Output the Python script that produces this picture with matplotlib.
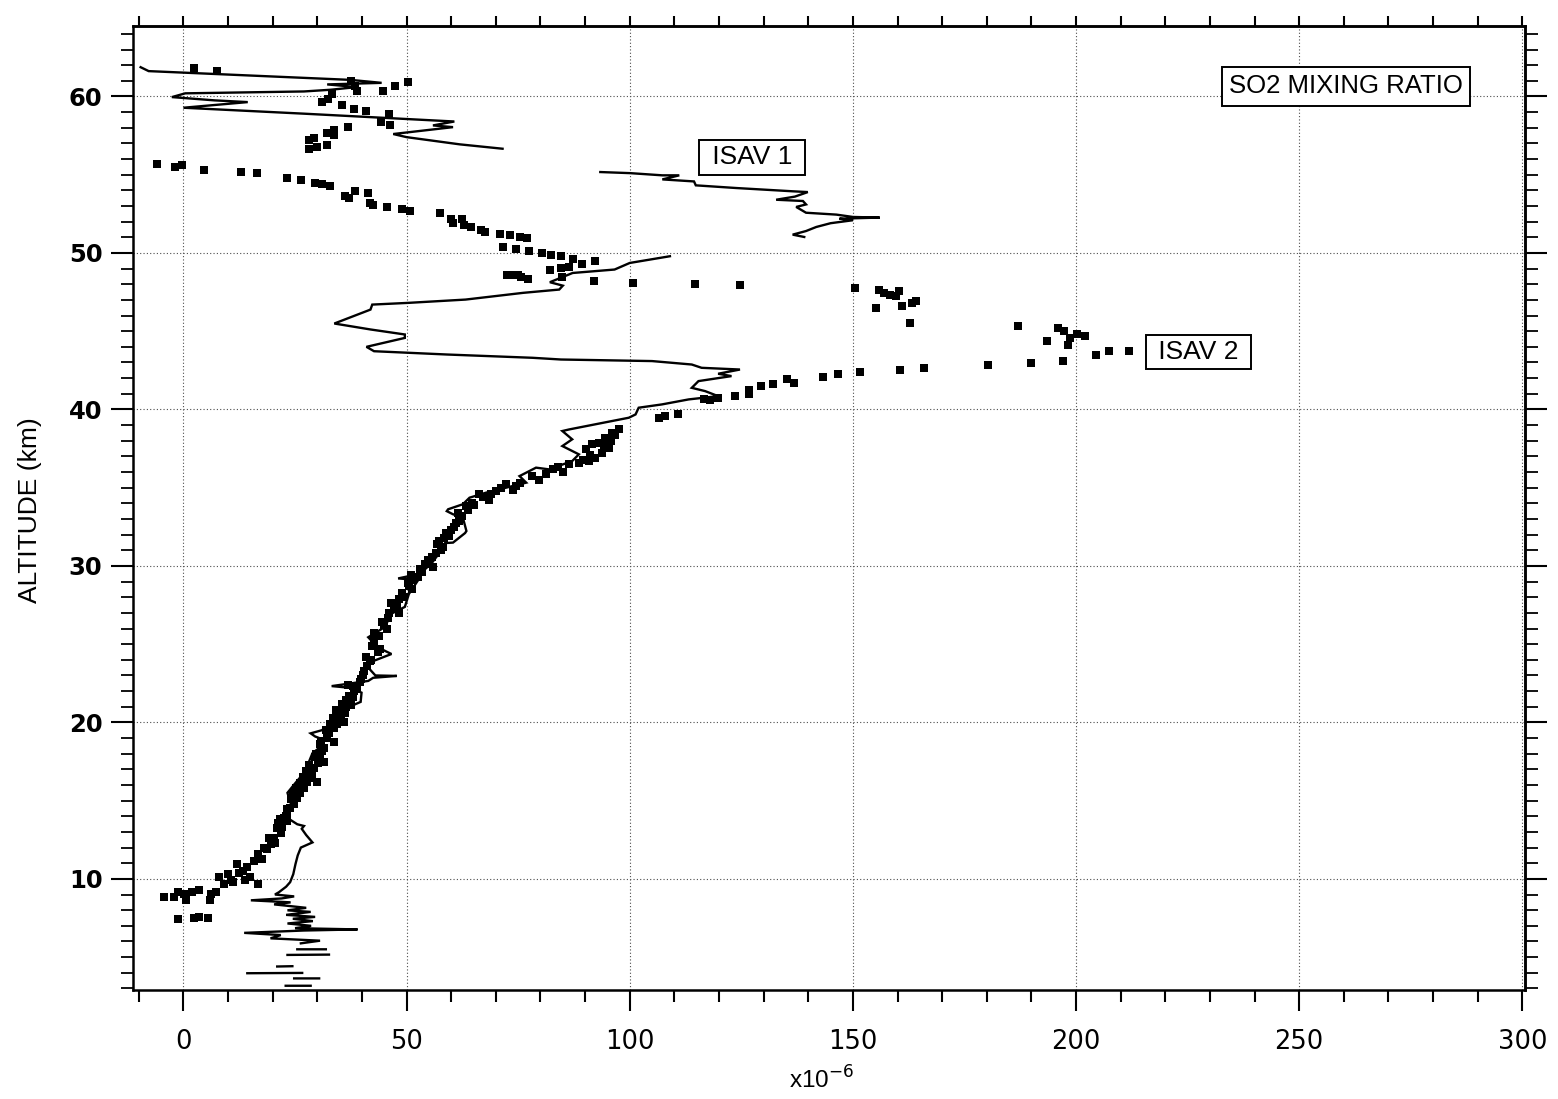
import numpy as np
import matplotlib
matplotlib.use("Agg")
import matplotlib.pyplot as plt
from matplotlib.ticker import MultipleLocator

# ---------------------------------------------------------------------------
# SO2 mixing ratio profiles (x1e-6) versus altitude (km)
# ---------------------------------------------------------------------------

# ISAV 1 profile, drawn as a line; broken into separate traces.
# Each trace: list of (altitude km, mixing ratio x1e-6)
isav1_bottom_fragments = [
    [(3.17, 22.9), (3.17, 28.5)],
    [(3.64, 24.8), (3.64, 30.4)],
    [(3.97, 14.3), (3.99, 26.6)],
    [(4.40, 21.0), (4.42, 24.4)],
    [(5.14, 23.3), (5.16, 32.6)],
    [(5.50, 25.5), (5.50, 31.9)],
]

isav1_lower = [
    (5.88, 26.3), (6.05, 30.6), (6.20, 19.5), (6.41, 21.8), (6.55, 13.6),
    (6.70, 27.0), (6.77, 39.0), (6.85, 25.0), (7.00, 28.6), (7.15, 23.3),
    (7.30, 29.0), (7.45, 24.5), (7.57, 29.5), (7.70, 23.0), (7.89, 28.5),
    (7.99, 23.3), (8.15, 27.5), (8.37, 20.3), (8.50, 24.0), (8.63, 15.1),
    (8.75, 22.0), (8.88, 24.8), (9.00, 20.5), (9.15, 21.4), (9.50, 23.0),
    (9.79, 23.9), (10.30, 24.6), (10.95, 25.1), (11.50, 25.6), (12.00, 26.3),
    (12.33, 28.9), (12.80, 27.5), (13.20, 26.5), (13.38, 27.0), (13.49, 25.5),
    (13.80, 23.8), (14.12, 22.5), (14.76, 24.1), (15.50, 23.3), (16.10, 25.0),
    (16.77, 27.0), (17.40, 28.0), (18.03, 28.9), (18.50, 31.0), (18.88, 31.5),
    (19.10, 29.5), (19.30, 28.5), (19.50, 31.0), (19.80, 32.5), (20.15, 34.5),
    (20.60, 36.5), (21.00, 37.2), (21.31, 39.7), (21.90, 39.9), (22.20, 37.7),
    (22.32, 33.2), (22.65, 41.4), (22.85, 42.5), (22.97, 47.8), (23.00, 43.0),
    (23.72, 40.7), (24.37, 46.6), (24.80, 43.5), (25.44, 41.4), (26.09, 45.1),
    (26.95, 46.6), (27.38, 49.6), (28.20, 50.5), (29.10, 52.6), (29.20, 48.1),
    (29.50, 53.0), (30.17, 55.6), (30.85, 57.4), (31.46, 58.6), (31.49, 60.4),
    (32.10, 63.1), (32.23, 63.4), (33.09, 62.6), (33.30, 60.4), (33.50, 59.0),
    (33.62, 59.3), (33.94, 62.6), (34.36, 64.1), (34.68, 67.8), (35.00, 72.3),
    (35.32, 76.8), (35.74, 75.3), (35.96, 76.8), (36.28, 79.0), (36.17, 81.9),
    (36.70, 87.1), (37.13, 88.6), (37.66, 84.9), (38.09, 87.1), (38.62, 84.9),
    (38.72, 86.4), (39.47, 99.8), (39.68, 101.3), (40.11, 102.0), (40.32, 107.2),
    (40.64, 113.2), (40.85, 119.8), (41.17, 116.9), (41.38, 113.9), (41.81, 115.4),
    (42.13, 122.8), (42.28, 119.8), (42.55, 124.7), (42.66, 116.1), (42.87, 113.9),
    (43.09, 105.0), (43.19, 84.6), (43.30, 78.2), (43.51, 59.0), (43.72, 42.7),
    (44.00, 41.0), (44.57, 49.6), (44.79, 49.6), (45.11, 41.9), (45.49, 33.8),
    (46.38, 41.9), (46.70, 42.3), (46.81, 50.4), (47.02, 63.2), (47.45, 76.1),
    (47.66, 84.2), (47.91, 85.0), (48.13, 82.1), (48.72, 87.2), (48.94, 96.6),
    (49.36, 100.0), (49.79, 109.0),
]

isav1_middle = [
    (51.02, 139.1), (51.17, 136.5), (51.40, 139.5), (51.66, 141.8), (51.90, 145.0),
    (52.09, 150.0), (52.19, 147.0), (52.26, 156.0), (52.30, 150.0), (52.45, 146.3),
    (52.57, 139.5), (52.94, 137.3), (53.10, 139.5), (53.32, 138.8), (53.40, 132.8),
    (53.60, 137.0), (53.89, 139.9), (53.94, 136.5), (54.15, 123.8), (54.32, 114.8),
    (54.57, 114.4), (54.70, 107.3), (54.96, 111.1), (54.96, 107.3), (55.10, 100.1),
    (55.17, 93.4),
]

isav1_upper = [
    (56.66, 71.5), (56.94, 61.9), (57.40, 50.0), (57.60, 47.0), (58.04, 60.4),
    (58.15, 55.9), (58.40, 60.7), (58.90, 27.0), (59.28, 0.0), (59.64, 14.4),
    (59.75, 7.0), (59.96, -2.6), (60.20, 0.4), (60.32, 27.0), (60.43, 33.0),
    (60.60, 38.9), (60.77, 32.2), (60.87, 44.4), (61.06, 37.4), (61.62, -7.8),
    (61.87, -9.6),
]

# ISAV 2 profile, drawn as square points: (altitude km, mixing ratio x1e-6)
isav2_low = [
    (7.46, -1.3), (7.53, 2.4), (7.57, 3.5), (7.53, 5.4),
    (8.84, -4.3), (8.84, -2.2), (9.15, -1.3), (9.05, 0.1), (8.63, 0.5),
    (9.15, 2.0), (9.30, 3.5), (8.63, 6.0), (9.05, 6.1), (9.15, 7.2),
    (10.10, 8.0), (10.30, 9.9), (9.90, 10.6), (9.68, 9.1), (10.95, 11.9),
    (10.53, 13.4), (9.90, 13.8), (10.10, 15.0), (9.68, 16.6), (10.74, 14.3),
    (11.16, 15.8), (10.40, 12.5), (9.80, 11.0), (11.58, 16.6), (11.30, 17.5),
    (12.00, 18.0), (11.90, 18.8), (12.22, 19.6), (12.30, 20.5), (12.64, 20.3),
    (12.60, 19.2), (13.28, 21.0), (12.96, 21.8), (13.30, 22.0), (13.60, 21.2),
    (13.83, 21.7), (13.91, 22.5), (13.70, 23.3), (14.00, 23.0), (14.20, 23.3),
    (14.47, 23.2), (14.55, 23.9), (14.80, 24.8), (15.10, 24.2), (15.18, 25.5),
    (15.50, 24.5), (15.50, 26.2), (15.81, 27.0), (15.80, 25.3), (16.10, 26.0),
    (16.17, 29.9), (16.20, 27.6), (16.45, 28.5), (16.50, 26.8), (16.70, 28.9),
    (16.90, 27.5), (17.08, 29.3), (17.30, 28.2), (17.40, 30.1), (17.45, 31.4),
    (17.72, 30.7), (17.80, 29.5), (18.00, 29.8), (18.20, 31.0), (18.35, 31.5),
    (18.60, 30.5), (18.72, 33.7), (18.80, 30.9), (18.99, 32.2), (19.30, 32.7),
    (19.50, 32.0), (19.62, 33.7), (19.90, 32.8), (19.90, 34.4), (20.00, 35.9),
    (20.30, 33.6), (20.47, 35.2), (20.70, 35.7), (20.80, 34.2), (21.00, 36.4),
    (21.10, 37.5), (21.28, 37.4), (21.40, 36.5), (21.60, 37.9), (22.00, 38.1),
    (22.13, 38.9), (22.40, 36.8), (22.60, 39.5), (23.00, 40.2), (23.62, 41.1),
    (24.00, 42.0), (24.50, 43.5), (24.68, 44.1), (25.20, 42.8), (25.96, 45.6),
    (26.40, 44.5), (26.98, 48.4), (27.23, 47.1), (27.60, 46.5), (28.00, 49.5),
    (28.50, 51.3), (28.90, 50.2), (29.30, 52.5), (29.60, 53.5), (29.96, 55.8),
    (30.40, 54.8), (30.80, 56.5), (31.24, 58.1), (31.60, 57.2), (31.90, 59.5),
    (32.30, 60.0), (32.73, 61.1), (33.20, 62.3), (33.80, 63.3), (33.90, 65.0),
    (34.20, 68.5), (34.57, 66.3), (34.79, 70.1), (34.86, 73.8), (35.21, 72.3),
    (35.30, 75.5), (35.50, 79.7), (35.74, 78.2), (35.85, 81.2), (36.00, 85.1),
    (36.17, 82.7), (36.49, 86.4), (36.60, 88.6), (36.70, 90.9), (36.91, 92.3),
    (37.23, 93.8), (37.45, 90.1), (37.55, 95.3), (37.77, 91.6), (37.87, 93.1),
    (38.19, 94.5), (38.51, 96.0), (38.72, 97.5), (39.47, 106.5), (39.57, 108.0),
    (39.68, 110.7), (40.64, 116.7), (40.60, 118.0), (40.74, 119.7), (40.85, 123.5),
    (41.00, 126.7), (41.21, 126.7), (41.49, 129.4), (41.60, 132.1), (41.96, 135.3),
    (41.70, 136.9), (42.09, 143.3), (42.28, 146.6), (42.38, 151.6), (42.51, 160.5),
    (42.66, 165.9), (42.87, 180.2), (42.96, 189.9), (43.09, 197.0), (43.47, 204.5),
    (43.72, 207.3), (43.72, 211.9),
]

# additional ISAV 2 samples along the dense 20-38 km stretch
isav2_dense = [
    (20.20, 34.8), (20.60, 36.2), (21.20, 35.5), (21.70, 37.0), (22.30, 38.0),
    (22.80, 39.8), (23.30, 40.5), (23.90, 41.8), (24.20, 40.9), (24.90, 42.3),
    (25.50, 43.8), (25.70, 42.6), (26.20, 45.0), (26.70, 45.8), (27.00, 46.0),
    (27.40, 47.8), (27.90, 48.3), (28.30, 49.0), (28.70, 50.5), (29.10, 51.5),
    (29.40, 50.9), (29.80, 53.0), (30.10, 54.2), (30.60, 55.6), (31.00, 57.6),
    (31.40, 56.8), (31.80, 58.4), (32.10, 58.9), (32.50, 60.6), (32.90, 61.8),
    (33.40, 61.5), (33.60, 63.8), (34.00, 64.6), (34.40, 67.2), (34.60, 68.9),
    (35.00, 71.2), (35.10, 74.5), (36.30, 84.0), (36.80, 89.5), (37.10, 91.0),
    (37.70, 94.2), (38.00, 95.8), (38.35, 96.8),
]

isav2_mid = [
    (45.32, 187.1), (44.40, 193.6), (45.21, 196.0), (45.04, 197.3), (44.57, 198.7),
    (44.11, 198.1), (44.85, 200.3), (44.68, 202.0),
    (45.53, 162.8), (46.45, 155.2), (46.60, 160.9), (46.81, 163.3), (46.96, 164.2),
    (47.66, 155.8), (47.45, 157.0), (47.30, 158.3), (47.23, 159.6), (47.55, 160.3),
    (47.77, 150.4), (47.98, 124.8), (48.02, 114.6), (48.09, 100.7), (48.19, 92.1),
    (48.57, 72.6), (48.62, 73.1), (48.57, 75.0), (48.47, 75.6), (48.36, 77.3),
    (48.90, 82.2), (49.04, 84.6), (49.10, 86.3), (48.47, 84.8),
    (50.38, 71.5), (50.28, 74.5), (50.10, 77.5), (50.00, 80.4), (49.90, 82.4),
    (49.80, 84.5), (49.64, 87.2), (49.32, 89.2), (49.49, 92.3),
    (51.23, 71.0), (51.13, 73.2), (51.02, 75.4), (50.96, 77.0),
]

isav2_high = [
    (52.55, 57.4), (52.17, 60.0), (51.91, 60.3), (52.17, 62.4), (51.81, 62.8),
    (51.64, 64.5), (51.45, 66.7), (51.34, 67.5),
    (52.83, 48.9), (52.66, 50.7), (52.94, 45.6), (53.09, 42.4), (53.19, 41.9),
    (53.83, 41.3), (53.96, 38.5), (53.51, 37.0), (53.64, 36.1), (54.28, 32.8),
    (54.43, 31.1), (54.49, 29.4), (54.68, 26.3), (54.79, 23.2), (55.11, 16.5),
    (55.17, 13.0), (55.32, 4.7), (55.60, -0.4), (55.49, -1.9), (55.70, -5.9),
    (56.66, 28.1), (56.77, 30.0), (56.91, 32.1), (57.19, 28.1), (57.36, 29.3),
    (57.66, 32.2), (57.51, 33.7), (57.83, 33.7), (58.04, 36.9), (58.36, 44.3),
    (58.19, 46.3), (58.89, 46.1), (59.10, 40.9), (59.21, 38.1), (59.43, 35.6),
    (59.64, 31.1), (59.85, 32.4), (60.13, 33.3), (60.34, 38.9), (60.38, 44.8),
    (60.68, 47.3), (60.90, 50.4), (60.70, 38.5), (61.00, 37.6), (61.60, 7.6),
    (61.81, 2.4),
]

x_ticks = [0, 50, 100, 150, 200, 250, 300]
y_ticks = [10, 20, 30, 40, 50, 60]

# ---------------------------------------------------------------------------
fig = plt.figure(figsize=(15.58, 10.99), dpi=100)
ax = fig.add_axes([0.0854, 0.0992, 0.8934, 0.8771])

# join ISAV 1 traces with gaps between them
line_alt, line_val = [], []
for trace in isav1_bottom_fragments + [isav1_lower, isav1_middle, isav1_upper]:
    a, v = zip(*trace)
    line_alt.extend(a + (np.nan,))
    line_val.extend(v + (np.nan,))
ax.plot(line_val, line_alt, color="black", lw=1.7, solid_joinstyle="miter")

pts_alt, pts_val = zip(*(isav2_low + isav2_dense + isav2_mid + isav2_high))
ax.plot(pts_val, pts_alt, ls="none", marker="s", ms=5.4, color="black",
        markeredgewidth=0)

ax.set_xlim(-11.3, 300.6)
ax.set_ylim(2.9, 64.5)

ax.set_xticks(x_ticks)
ax.set_yticks(y_ticks)
ax.xaxis.set_minor_locator(MultipleLocator(10))
ax.yaxis.set_minor_locator(MultipleLocator(1))

ax.grid(which="major", linestyle=(0, (1, 2)), color="0.3", linewidth=0.8)

for s in ax.spines.values():
    s.set_linewidth(1.8)

ax.tick_params(axis="x", which="major", direction="out", length=15, width=1.5,
               pad=13, labelsize=18.5)
ax.tick_params(axis="x", which="minor", direction="out", length=8.5, width=1.5)
ax.tick_params(axis="y", which="major", direction="out", length=16, width=1.5,
               pad=6, labelsize=17.5)
ax.tick_params(axis="y", which="minor", direction="out", length=9, width=1.3)
for lbl in ax.get_yticklabels():
    lbl.set_fontweight("bold")

top = ax.secondary_xaxis("top")
top.set_xticks(np.arange(-10, 301, 10))
top.tick_params(direction="out", length=7, width=1.5, labeltop=False)
top.spines["top"].set_linewidth(1.8)

right = ax.secondary_yaxis("right")
right.set_yticks(y_ticks)
right.yaxis.set_minor_locator(MultipleLocator(1))
right.tick_params(which="major", direction="out", length=16, width=1.5,
                  labelright=False)
right.tick_params(which="minor", direction="out", length=9, width=1.3)
right.spines["right"].set_linewidth(1.8)

sans = ["Liberation Sans", "DejaVu Sans"]
box = dict(boxstyle="square,pad=0.28", fc="white", ec="black", lw=1.4)
ax.text(260.5, 60.64, "SO2 MIXING RATIO", ha="center", va="center",
        fontsize=18.5, family=sans, bbox=box)
ax.text(127.4, 56.1, " ISAV 1 ", ha="center", va="center",
        fontsize=19, family=sans, bbox=dict(box, boxstyle="square,pad=0.2"))
ax.text(227.5, 43.67, " ISAV 2 ", ha="center", va="center",
        fontsize=19, family=sans, bbox=dict(box, boxstyle="square,pad=0.2"))

fig.text(30 / 1558, 1 - 510 / 1099, "ALTITUDE (km)", rotation=90,
         ha="center", va="center", fontsize=19, family=sans)
fig.text(822 / 1558, 1 - 1080 / 1099, r"x10$^{-6}$", ha="center",
         va="center", fontsize=17.5, family=sans)

fig.savefig("out.png", dpi=100, facecolor="white")
